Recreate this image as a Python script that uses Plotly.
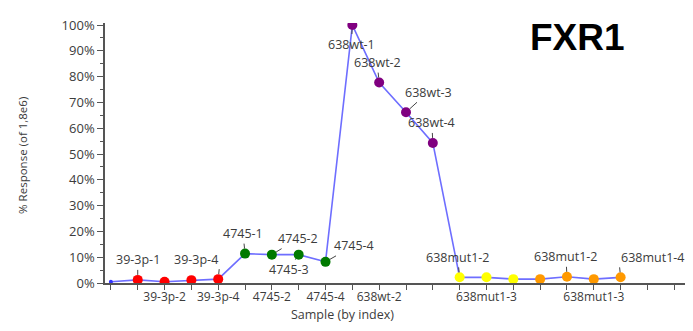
import plotly.graph_objects as go

# ---- data ----
sample_index = list(range(20))
sample_names = ["blank", "39-3p-1", "39-3p-2", "39-3p-3", "39-3p-4",
                "4745-1", "4745-2", "4745-3", "4745-4",
                "638wt-1", "638wt-2", "638wt-3", "638wt-4",
                "638mut1-2", "638mut1-3", "638mut1-4",
                "638mut1-1", "638mut1-2", "638mut1-3", "638mut1-4"]
response_pct = [0.5, 1.2, 0.5, 1.1, 1.5,
                11.4, 11.0, 11.0, 8.2,
                100.0, 77.7, 66.2, 54.3,
                2.2, 2.2, 1.5,
                1.5, 2.4, 1.5, 2.2]
groups = ["blank", "39-3p", "39-3p", "39-3p", "39-3p",
          "4745", "4745", "4745", "4745",
          "638wt", "638wt", "638wt", "638wt",
          "638mut1a", "638mut1a", "638mut1a",
          "638mut1b", "638mut1b", "638mut1b", "638mut1b"]

tick_positions = list(range(22))
tick_labels = ["", "", "39-3p-2", "", "39-3p-4", "", "4745-2", "", "4745-4", "",
               "638wt-2", "", "", "", "638mut1-3", "", "", "", "638mut1-3", "", "", ""]

# point labels: (index, text, dx, dy, xanchor)
point_labels = [
    (1, "39-3p-1", 0, -20, "center"),
    (4, "39-3p-4", 2, -20, "right"),
    (5, "4745-1", -2, -20, "center"),
    (6, "4745-2", 26, -16, "center"),
    (7, "4745-3", -10, 15, "center"),
    (8, "4745-4", 28, -16, "center"),
    (9, "638wt-1", -1, 19, "center"),
    (10, "638wt-2", -2, -20, "center"),
    (11, "638wt-3", 22, -20, "center"),
    (12, "638wt-4", -1, -20, "center"),
    (13, "638mut1-2", -2, -20, "center"),
    (17, "638mut1-2", -1, -20, "center"),
    (19, "638mut1-4", -2, -20, "left"),
]

group_colors = {"blank": "#3333ff", "39-3p": "#ff0000", "4745": "#007a00",
                "638wt": "#800080", "638mut1a": "#ffff00", "638mut1b": "#ff9900"}
group_sizes = {"blank": 4}

FONT = "Open Sans"
TXT = "#3c3c3c"

fig = go.Figure()
fig.add_trace(go.Scatter(x=sample_index, y=response_pct, mode="lines",
                         line=dict(color="#6e6eff", width=1.6), hoverinfo="skip"))
fig.add_trace(go.Scatter(x=sample_index, y=response_pct, mode="markers",
                         marker=dict(color=[group_colors[g] for g in groups],
                                     size=[group_sizes.get(g, 10) for g in groups],
                                     opacity=1, line=dict(width=0)),
                         text=sample_names))

for idx, txt, dx, dy, xa in point_labels:
    fig.add_annotation(x=sample_index[idx], y=response_pct[idx], text=txt,
                       showarrow=True, ax=dx, ay=dy, arrowhead=0, arrowwidth=1,
                       arrowcolor="#444444", standoff=5, xanchor=xa,
                       font=dict(family=FONT, size=12.5, color=TXT))

fig.add_annotation(xref="paper", yref="paper", x=0.814, y=0.945, text="<b>FXR1</b>",
                   showarrow=False, xanchor="center", yanchor="middle",
                   font=dict(family="Liberation Sans", size=37, color="#000000"))
fig.add_annotation(xref="paper", yref="paper", x=0.41, y=-0.122, text="Sample (by index)",
                   showarrow=False, xanchor="center", yanchor="middle",
                   font=dict(family=FONT, size=12.5, color=TXT))
fig.add_annotation(xref="paper", yref="paper", x=-0.159, y=0.49, text="% Response (of 1,8e6)",
                   showarrow=False, textangle=-90, xanchor="left", yanchor="middle",
                   font=dict(family=FONT, size=11.5, color=TXT))

fig.update_xaxes(range=[-0.22, 21.4], tickmode="array", tickvals=tick_positions,
                 ticktext=tick_labels, ticks="outside", ticklen=5, tickcolor="#555555",
                 ticklabelstandoff=-3,
                 showline=True, linecolor="#555555", linewidth=1.5, showgrid=False,
                 zeroline=False, tickfont=dict(family=FONT, size=12, color=TXT))
fig.update_yaxes(range=[0, 100.8], tickmode="array", tickvals=list(range(0, 101, 10)),
                 ticktext=[f"{v}%" for v in range(0, 101, 10)], ticks="outside", ticklen=6,
                 tickcolor="#555555", showline=True, linecolor="#555555", linewidth=1.5,
                 showgrid=False, zeroline=False,
                 minor=dict(ticks="outside", ticklen=3, tickvals=list(range(5, 100, 10)),
                            tickcolor="#555555"),
                 tickfont=dict(family=FONT, size=13, color=TXT))

# page body has an 8px margin, so the figure is sized/offset to compensate
fig.update_layout(width=685, height=323, margin=dict(l=97, r=8, t=13, b=48),
                  plot_bgcolor="white", paper_bgcolor="white", showlegend=False)

fig.write_html("out.html")
